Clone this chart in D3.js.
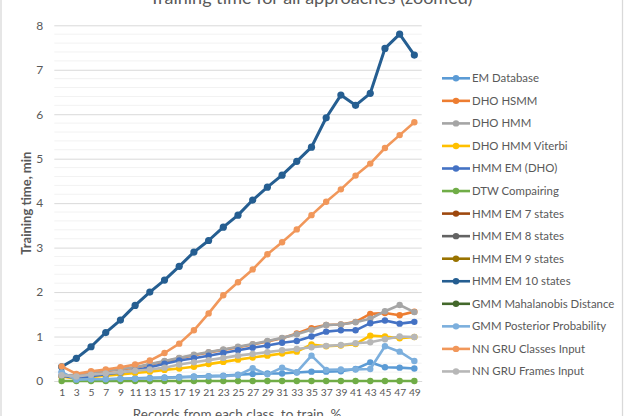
<!DOCTYPE html>
<html><head><meta charset="utf-8">
<script src="https://cdn.jsdelivr.net/npm/d3@7"></script>
<style>
html,body{margin:0;padding:0;background:#fff;}
svg{display:block;font-family:Lato,"Liberation Sans",sans-serif;}
</style></head>
<body>
<svg id="c" width="624" height="416"></svg>
<script>
// ---- data ----
const categories = [1,3,5,7,9,11,13,15,17,19,21,23,25,27,29,31,33,35,37,39,41,43,45,47,49];
const yTicks = [0,1,2,3,4,5,6,7,8];
const seriesNames = ["EM Database","DHO HSMM","DHO HMM","DHO HMM Viterbi","HMM EM (DHO)","DTW Compairing",
  "HMM EM 7 states","HMM EM 8 states","HMM EM 9 states","HMM EM 10 states","GMM Mahalanobis Distance",
  "GMM Posterior Probability","NN GRU Classes Input","NN GRU Frames Input"];
const seriesColors = ["#5B9BD5","#ED7D31","#A5A5A5","#FFC000","#4472C4","#70AD47","#9E480E","#636363",
  "#997300","#255E91","#43682B","#7CAFDD","#F1975A","#B7B7B7"];

const emDatabase   = [0.2,0.02,0.03,0.04,0.05,0.06,0.07,0.08,0.09,0.1,0.11,0.12,0.14,0.16,0.17,0.17,0.19,0.21,0.21,0.22,0.27,0.42,0.31,0.3,0.28];
const dhoHsmm      = [0.1,0.13,0.19,0.22,0.26,0.3,0.37,0.44,0.51,0.58,0.64,0.7,0.76,0.82,0.89,0.96,1.07,1.19,1.26,1.27,1.33,1.51,1.53,1.48,1.56];
const dhoHmm       = [0.12,0.14,0.2,0.23,0.27,0.31,0.38,0.45,0.52,0.59,0.65,0.71,0.77,0.83,0.9,0.97,1.05,1.15,1.26,1.27,1.32,1.4,1.57,1.71,1.55];
const dhoViterbi   = [0.1,0.05,0.09,0.12,0.15,0.18,0.21,0.25,0.28,0.32,0.38,0.43,0.48,0.53,0.57,0.62,0.66,0.82,0.78,0.8,0.83,1.02,1.0,0.96,0.99];
const hmmEmDho     = [0.12,0.07,0.11,0.15,0.19,0.24,0.31,0.39,0.46,0.51,0.57,0.63,0.69,0.75,0.8,0.86,0.9,1.0,1.11,1.14,1.14,1.3,1.36,1.29,1.33];
const dtw          = [0,0,0,0,0,0,0,0,0,0,0,0,0,0,0,0,0,0,0,0,0,0,0,0,0];
const hmm7         = [];
const hmm8         = [];
const hmm9         = [];
const hmm10        = [0.32,0.51,0.77,1.09,1.37,1.7,2.0,2.27,2.58,2.9,3.16,3.46,3.73,4.07,4.36,4.63,4.94,5.26,5.92,6.43,6.2,6.47,7.48,7.8,7.33];
const gmmMahal     = [];
const gmmPosterior = [0.2,0.03,0.04,0.04,0.05,0.05,0.06,0.07,0.08,0.09,0.1,0.11,0.13,0.29,0.15,0.3,0.2,0.57,0.25,0.26,0.26,0.27,0.78,0.66,0.45];
const nnClasses    = [0.33,0.16,0.22,0.26,0.31,0.37,0.46,0.63,0.84,1.14,1.52,1.93,2.22,2.51,2.85,3.12,3.41,3.73,4.03,4.31,4.62,4.89,5.24,5.53,5.82];
const nnFrames     = [0.13,0.1,0.14,0.17,0.2,0.23,0.26,0.3,0.37,0.42,0.47,0.52,0.57,0.61,0.65,0.69,0.72,0.76,0.79,0.81,0.85,0.87,0.94,1.0,0.99];

const seriesValues = [emDatabase,dhoHsmm,dhoHmm,dhoViterbi,hmmEmDho,dtw,hmm7,hmm8,hmm9,hmm10,gmmMahal,gmmPosterior,nnClasses,nnFrames];

// ---- chart ----
(function(){
const svg = d3.select("#c");
const pL = 54.3, pR = 421.7, pT = 25.3, pB = 381;
const x = d3.scalePoint().domain(categories).range([pL, pR]).padding(0.5);
const y = d3.scaleLinear().domain([0, 8]).range([pB, pT]);

svg.append("rect").attr("x",1).attr("y",-5).attr("width",621.5).attr("height",430)
  .attr("fill","#fff").attr("stroke","#D9D9D9").attr("stroke-width",1.3);

const minor = d3.range(0, 8.001, 0.2).filter(v => Math.abs(v - Math.round(v)) > 1e-6);
svg.append("g").selectAll("line").data(minor).join("line")
  .attr("x1",pL).attr("x2",pR).attr("y1",d=>y(d)).attr("y2",d=>y(d))
  .attr("stroke","#F2F2F2").attr("stroke-width",1);
const yAxis = svg.append("g").attr("transform",`translate(${pL},0)`)
  .call(d3.axisLeft(y).tickValues(yTicks).tickSize(-(pR-pL)).tickPadding(11).tickFormat(d3.format("d")));
yAxis.select(".domain").remove();
yAxis.selectAll(".tick line").attr("stroke","#D9D9D9").attr("stroke-width",1);
yAxis.selectAll(".tick text").attr("fill","#595959").attr("font-size",12).attr("font-family","Lato");

const xAxis = svg.append("g").attr("transform",`translate(0,${pB})`)
  .call(d3.axisBottom(x).tickSize(0).tickPadding(8));
xAxis.select(".domain").attr("stroke","#D9D9D9");
xAxis.selectAll(".tick text").attr("fill","#595959").attr("font-size",10.3).attr("font-family","Lato");

const line = d3.line().x((d,i)=>x(categories[i])).y(d=>y(d));
const gS = svg.append("g");
seriesValues.forEach((vals, k) => {
  if (!vals.length) return;
  const col = seriesColors[k];
  const w = k === 9 ? 3 : 2.6;
  gS.append("path").datum(vals).attr("d", line).attr("fill","none")
    .attr("stroke", col).attr("stroke-width", w).attr("stroke-linejoin","round");
  gS.append("g").selectAll("circle").data(vals).join("circle")
    .attr("cx",(d,i)=>x(categories[i])).attr("cy",d=>y(d)).attr("r", k === 9 ? 3.6 : 3.2)
    .attr("fill", col);
});

svg.append("text").attr("x",311).attr("y",4).attr("text-anchor","middle")
  .attr("font-size",18).attr("fill","#595959").attr("font-family","Lato")
  .text("Training time for all approaches (zoomed)");
svg.append("text").attr("transform",`translate(31,${(pT+pB)/2}) rotate(-90)`).attr("text-anchor","middle")
  .attr("font-size",13).attr("font-weight","bold").attr("fill","#595959").attr("font-family","Lato")
  .text("Training time, min");
svg.append("text").attr("x",237).attr("y",419).attr("text-anchor","middle")
  .attr("font-size",13.5).attr("fill","#595959").attr("font-family","Lato")
  .text("Records from each class, to train, %");

const legY0 = 78.3, legStep = 22.55;
const lg = svg.append("g");
seriesNames.forEach((name, k) => {
  const yy = legY0 + k*legStep;
  lg.append("line").attr("x1",442).attr("x2",470).attr("y1",yy).attr("y2",yy)
    .attr("stroke",seriesColors[k]).attr("stroke-width",2.6);
  lg.append("circle").attr("cx",456).attr("cy",yy).attr("r",3.2).attr("fill",seriesColors[k]);
  lg.append("text").attr("x",472).attr("y",yy).attr("dy","0.35em")
    .attr("font-size",11.4).attr("fill","#595959").attr("font-family","Lato").text(name);
});
})();
</script>
</body></html>
